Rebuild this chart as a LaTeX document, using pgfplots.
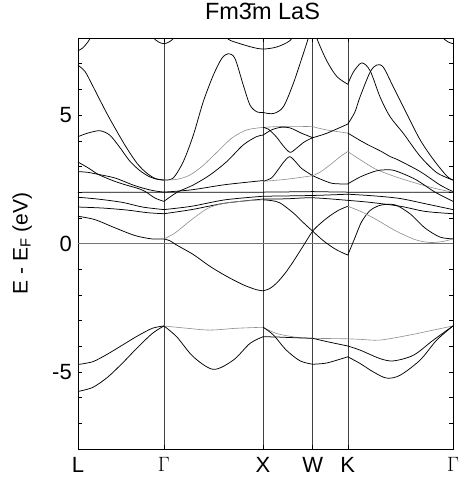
\documentclass[border=0pt]{standalone}
\usepackage{fontspec}
\setmainfont{Liberation Sans}
\usepackage{pgfplots}
\pgfplotsset{compat=1.18}
\pgfplotsset{
 bd/.style={black, line width=0.75pt, smooth, no marks},
 bl/.style={black!45, line width=0.6pt, smooth, no marks},
}
\begin{document}
\begin{tikzpicture}
\begin{axis}[
 width=375pt, height=411pt, scale only axis,
 xmin=0, xmax=3.781, ymin=-8, ymax=8,
 xtick={0,0.866,1.866,2.366,2.72,3.781},
 xticklabels={L,$\Gamma$,X,W,K,$\Gamma$},
 xmajorgrids, major grid style={black!75, line width=0.5pt},
 ytick={-5,0,5}, yticklabels={-5,0,5},
 minor ytick={-7,-6,-4,-3,-2,-1,1,2,3,4,6,7},
 tick align=inside, tick pos=both,
 major tick length=4pt, minor tick length=4pt,
 tick style={black, line width=0.5pt},
 axis line style={black, line width=0.6pt},
 ticklabel style={font=\fontsize{22}{22}\selectfont},
 yticklabel style={anchor=east, inner sep=0pt, xshift=-6pt},
 xticklabel style={anchor=north, inner sep=0pt, yshift=-8pt},
 ylabel={E - E\textsubscript{F} (eV)},
 ylabel style={at={(rel axis cs:-0.149,0.5)}, anchor=center, font=\fontsize{21}{21}\selectfont},
 title={\fontsize{23.5}{24}\selectfont Fm\=3m LaS},
 title style={at={(rel axis cs:0.492,1)}, anchor=base, inner sep=0pt, yshift=13pt},
 clip=true,
]
% zero line
\addplot[black!55, line width=0.5pt] coordinates {(0,0) (3.781,0)};
% ---------- L - Gamma ----------
\addplot[bd] coordinates {(0,7.5)(0.05,7.62)(0.1,7.85)(0.14,8.1)(0.18,8.4)};
\addplot[bd] coordinates {(0.68,8.5)(0.75,8.05)(0.81,7.85)(0.866,7.78)(0.92,7.85)(0.98,8.05)(1.05,8.5)};
\addplot[bd] coordinates {(0,6.94)(0.07,6.7)(0.14,6.2)(0.3,5.0)(0.47,3.85)(0.6,3.1)(0.7,2.72)(0.78,2.53)(0.866,2.47)};
\addplot[bd] coordinates {(0,4.16)(0.1,4.3)(0.22,4.39)(0.32,4.22)(0.42,3.75)(0.52,3.22)(0.62,2.85)(0.72,2.6)(0.8,2.5)(0.866,2.47)};
\addplot[bd] coordinates {(0,3.17)(0.1,2.95)(0.205,2.69)(0.35,2.45)(0.474,2.29)(0.6,2.15)(0.676,2.03)(0.776,1.77)(0.866,1.64)};
\addplot[bd] coordinates {(0,2.80)(0.1,2.77)(0.205,2.69)(0.373,2.55)(0.575,2.25)(0.743,2.07)(0.866,2.0)};
\addplot[bd] coordinates {(0,1.99)(0.866,2.0)(1.866,2.0)(2.366,2.02)(2.72,2.0)(3.781,2.0)};
\addplot[bd] coordinates {(0,1.8)(0.2,1.73)(0.45,1.6)(0.65,1.42)(0.866,1.32)};
\addplot[bd] coordinates {(0,1.42)(0.25,1.38)(0.5,1.3)(0.7,1.2)(0.866,1.16)};
\addplot[bd] coordinates {(0,1.06)(0.17,0.93)(0.373,0.61)(0.575,0.31)(0.743,0.18)(0.866,0.18)};
\addplot[bd] coordinates {(0,-4.71)(0.15,-4.6)(0.3,-4.3)(0.45,-3.95)(0.6,-3.6)(0.75,-3.3)(0.866,-3.21)};
\addplot[bd] coordinates {(0,-5.76)(0.15,-5.6)(0.3,-5.2)(0.45,-4.65)(0.6,-4.05)(0.75,-3.5)(0.866,-3.21)};
% ---------- Gamma - X ----------
\addplot[bd] coordinates {(0.866,2.47)(0.96,2.55)(1.062,3.19)(1.163,4.22)(1.263,5.52)(1.364,6.55)(1.449,7.2)(1.516,7.39)(1.583,7.2)(1.667,6.16)(1.734,5.39)(1.802,5.13)(1.866,5.10)};
\addplot[bl] coordinates {(0.866,2.47)(1.0,2.5)(1.12,2.65)(1.25,3.0)(1.4,3.55)(1.55,4.1)(1.7,4.42)(1.866,4.52)};
\addplot[bd] coordinates {(0.866,1.64)(0.961,1.9)(1.028,2.05)(1.163,2.28)(1.331,2.67)(1.5,3.19)(1.667,3.84)(1.8,4.16)(1.866,4.22)};
\addplot[bd] coordinates {(0.866,2.0)(1.146,2.09)(1.482,2.29)(1.866,2.45)};
\addplot[bd] coordinates {(0.866,1.32)(1.146,1.45)(1.482,1.7)(1.866,1.84)};
\addplot[bd] coordinates {(0.866,1.16)(1.146,1.32)(1.482,1.57)(1.866,1.73)};
\addplot[bl] coordinates {(0.866,0.18)(0.978,0.41)(1.146,0.93)(1.314,1.38)(1.482,1.57)(1.7,1.66)(1.866,1.70)};
\addplot[bd] coordinates {(0.866,0.18)(0.93,0.1)(0.995,-0.06)(1.163,-0.43)(1.331,-0.89)(1.5,-1.28)(1.667,-1.61)(1.8,-1.80)(1.866,-1.84)};
\addplot[bd] coordinates {(1.45,8.3)(1.516,7.95)(1.634,7.78)(1.768,7.63)(1.866,7.57)(2.003,7.65)(2.138,7.9)(2.2,8.3)};
\addplot[bl] coordinates {(0.866,-3.21)(1.1,-3.3)(1.33,-3.37)(1.6,-3.3)(1.866,-3.26)};
\addplot[bd] coordinates {(0.866,-3.21)(0.995,-3.63)(1.163,-4.41)(1.365,-4.90)(1.566,-4.54)(1.734,-3.89)(1.866,-3.63)};
% ---------- X - W - K ----------
\addplot[bd] coordinates {(1.866,5.10)(1.97,5.06)(2.07,5.32)(2.17,6.22)(2.27,7.37)(2.32,7.97)(2.366,8.6)};
\addplot[bd] coordinates {(2.366,8.6)(2.41,7.97)(2.51,7.1)(2.61,6.5)(2.72,6.2)};
\addplot[bl] coordinates {(1.866,4.52)(2.0,4.55)(2.2,4.56)(2.366,4.55)};
\addplot[bl] coordinates {(2.366,4.55)(2.507,4.42)(2.72,4.30)};
\addplot[bd] coordinates {(1.866,4.22)(1.95,4.42)(2.04,4.52)(2.138,4.5)(2.25,4.3)(2.366,4.12)};
\addplot[bd] coordinates {(2.366,4.12)(2.507,4.29)(2.72,4.65)};
\addplot[bd] coordinates {(1.866,4.52)(1.92,4.45)(2.0,4.15)(2.07,3.8)(2.138,3.55)(2.2,3.7)(2.28,3.95)(2.366,4.12)};
\addplot[bd] coordinates {(1.866,2.42)(1.95,2.55)(2.017,2.87)(2.08,3.2)(2.135,3.38)(2.19,3.2)(2.252,2.93)(2.366,2.64)};
\addplot[bd] coordinates {(2.366,2.64)(2.554,2.35)(2.72,2.32)};
\addplot[bl] coordinates {(1.866,2.42)(2.1,2.5)(2.366,2.64)};
\addplot[bl] coordinates {(2.366,2.64)(2.45,2.8)(2.554,3.1)(2.65,3.4)(2.72,3.58)};
\addplot[bd] coordinates {(1.866,1.84)(2.366,1.87)(2.72,1.92)};
\addplot[bd] coordinates {(1.866,1.73)(2.1,1.74)(2.366,1.78)(2.72,1.68)};
\addplot[bd] coordinates {(1.866,1.70)(1.95,1.67)(2.037,1.58)(2.171,1.19)(2.27,0.82)(2.366,0.48)(2.47,0.12)(2.574,-0.17)(2.65,-0.33)(2.72,-0.45)};
\addplot[bd] coordinates {(1.866,-1.84)(1.93,-1.76)(2.003,-1.54)(2.09,-1.15)(2.171,-0.7)(2.27,-0.1)(2.366,0.48)(2.45,0.8)(2.541,1.08)(2.63,1.3)(2.72,1.45)};
\addplot[bl] coordinates {(1.866,-3.26)(2.0,-3.5)(2.2,-3.65)(2.366,-3.69)(2.55,-3.70)(2.72,-3.71)};
\addplot[bd] coordinates {(1.866,-3.63)(2.0,-3.64)(2.2,-3.67)(2.366,-3.69)};
\addplot[bd] coordinates {(2.366,-3.69)(2.51,-3.82)(2.72,-3.99)};
\addplot[bd] coordinates {(1.866,-3.26)(1.97,-3.56)(2.10,-4.15)(2.24,-4.57)(2.366,-4.70)};
\addplot[bd] coordinates {(2.366,-4.70)(2.51,-4.65)(2.72,-4.41)};
% ---------- K - Gamma ----------
\addplot[bd] coordinates {(2.72,6.2)(2.776,6.67)(2.86,7.03)(2.945,6.73)(3.045,5.71)(3.146,4.94)(3.28,4.29)(3.449,3.40)(3.617,2.76)(3.781,2.47)};
\addplot[bd] coordinates {(2.72,4.65)(2.79,5.1)(2.844,5.71)(2.945,6.67)(3.012,6.95)(3.079,6.86)(3.18,6.09)(3.314,5.06)(3.449,4.04)(3.583,3.27)(3.718,2.63)(3.781,2.47)};
\addplot[bd] coordinates {(2.72,4.30)(2.85,4.0)(2.925,3.84)(3.06,3.58)(3.15,3.38)(3.23,3.25)(3.45,2.8)(3.65,2.28)(3.781,2.02)};
\addplot[bl] coordinates {(2.72,3.58)(2.85,3.25)(3.0,2.9)(3.2,2.6)(3.45,2.3)(3.65,2.1)(3.781,2.0)};
\addplot[bd] coordinates {(2.72,2.32)(2.85,2.6)(3.0,2.82)(3.1,2.87)(3.2,2.83)(3.4,2.5)(3.6,2.0)(3.781,1.64)};
\addplot[bd] coordinates {(2.72,1.92)(3.0,1.85)(3.25,1.75)(3.5,1.55)(3.781,1.32)};
\addplot[bd] coordinates {(2.72,1.68)(2.95,1.6)(3.25,1.45)(3.5,1.25)(3.781,1.16)};
\addplot[bd] coordinates {(2.72,-0.45)(2.79,0.2)(2.86,0.85)(2.95,1.3)(3.06,1.5)(3.2,1.5)(3.35,1.15)(3.5,0.6)(3.65,0.25)(3.781,0.18)};
\addplot[bl] coordinates {(2.72,1.45)(2.85,1.25)(3.0,0.95)(3.2,0.5)(3.4,0.15)(3.55,0.04)(3.68,0.08)(3.781,0.18)};
\addplot[bd] coordinates {(3.6,8.5)(3.67,8.05)(3.73,7.85)(3.781,7.78)};
\addplot[bl] coordinates {(2.72,-3.71)(2.844,-3.73)(3.045,-3.76)(3.348,-3.56)(3.583,-3.37)(3.781,-3.21)};
\addplot[bd] coordinates {(2.72,-3.99)(2.844,-4.15)(3.045,-4.48)(3.18,-4.57)(3.382,-4.35)(3.583,-3.76)(3.781,-3.21)};
\addplot[bd] coordinates {(2.72,-4.41)(2.844,-4.67)(2.978,-5.0)(3.112,-5.24)(3.247,-5.13)(3.449,-4.54)(3.617,-3.76)(3.781,-3.21)};
\coordinate (bbsw) at (rel axis cs:-0.208,-0.0803);
\coordinate (bbne) at (rel axis cs:1.0267,1.0925);
\end{axis}
\pgfresetboundingbox
\path[use as bounding box] (bbsw) rectangle (bbne);
\end{tikzpicture}
\end{document}
